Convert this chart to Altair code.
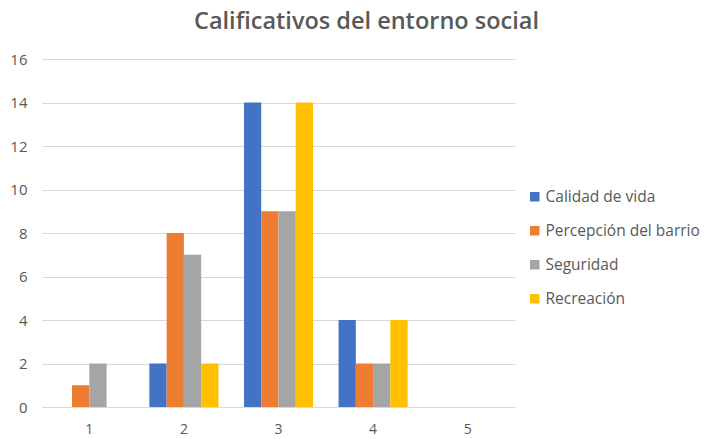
import altair as alt
import pandas as pd

categories = ["1", "2", "3", "4", "5"]
series = ["Calidad de vida", "Percepción del barrio", "Seguridad", "Recreación"]
calidad = [0, 2, 14, 4, 0]
percepcion = [1, 8, 9, 2, 0]
seguridad = [2, 7, 9, 2, 0]
recreacion = [0, 2, 14, 4, 0]
colors = ["#4472C4", "#ED7D31", "#A5A5A5", "#FFC000"]

rows = []
for s, vals in zip(series, [calidad, percepcion, seguridad, recreacion]):
    for c, v in zip(categories, vals):
        rows.append({"cat": c, "serie": s, "valor": v})
df = pd.DataFrame(rows)

FONT = "Open Sans"
GREY = "#595959"

chart = alt.Chart(df).mark_bar().encode(
    x=alt.X("cat:N", sort=categories, title=None,
            scale=alt.Scale(paddingInner=0.27, paddingOuter=0.135),
            axis=alt.Axis(labelAngle=0, ticks=False, domainColor="#D9D9D9",
                          labelColor=GREY, labelFontSize=14, labelFont=FONT,
                          labelPadding=15)),
    xOffset=alt.XOffset("serie:N", sort=series, scale=alt.Scale(paddingInner=0, paddingOuter=0)),
    y=alt.Y("valor:Q", title=None,
            scale=alt.Scale(domain=[0, 16]),
            axis=alt.Axis(values=list(range(0, 17, 2)), ticks=False, domain=False,
                          gridColor="#D9D9D9", labelColor=GREY, labelFontSize=15,
                          labelFont=FONT, labelPadding=15)),
    color=alt.Color("serie:N", sort=series,
                    scale=alt.Scale(domain=series, range=colors),
                    legend=alt.Legend(title=None, orient="none", legendX=485, legendY=130,
                                      symbolType="square", symbolSize=90,
                                      symbolStrokeWidth=0, rowPadding=17,
                                      labelFontSize=15.5, labelColor=GREY,
                                      labelFont=FONT, labelOffset=3)),
).properties(
    width=473, height=348,
    title=alt.TitleParams("Calificativos del entorno social", fontSize=23.5,
                          font=FONT, fontWeight=600, color=GREY,
                          anchor="middle", dx=88, offset=19),
    autosize=alt.AutoSizeParams(type="none"),
    padding={"left": 34, "top": 51, "right": 192, "bottom": 30},
).configure_view(stroke=None)

chart.save("out.html", embed_options={"renderer": "svg", "actions": False})
